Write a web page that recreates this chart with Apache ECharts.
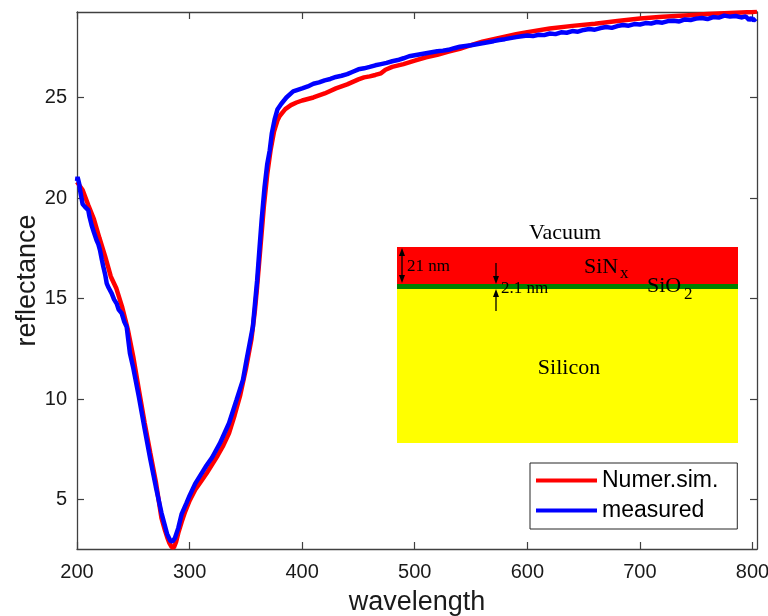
<!DOCTYPE html>
<html>
<head>
<meta charset="utf-8">
<script src="https://cdn.jsdelivr.net/npm/echarts@6/dist/echarts.min.js"></script>
<style>html,body{margin:0;padding:0;background:#fff}#c{width:768px;height:616px}</style>
</head>
<body>
<div id="c"></div>
<script>
// ---- data ----
var simWavelength = [200,205,210,215,220,225,230,235,240,245,250,255,260,265,270,275,278,280,282,284,285,286,288,290,293,296,300,305,310,315,320,325,330,335,340,345,350,355,358,360,363,366,369,372,375,378,380,385,390,395,400,410,420,430,440,450,455,460,465,470,474,480,490,500,510,520,530,540,550,560,570,580,590,600,620,640,660,680,700,720,740,760,780,800,804];
var simReflectance = [20.8,20.4,19.65,18.95,18.0,17.1,16.1,15.5,14.6,13.5,12.1,10.45,8.85,7.35,5.9,4.1,3.5,3.15,2.85,2.65,2.6,2.62,2.9,3.35,3.9,4.4,4.95,5.5,5.9,6.3,6.75,7.2,7.7,8.3,9.2,10.2,11.5,13.0,14.4,15.6,17.6,19.6,21.2,22.4,23.3,23.85,24.08,24.42,24.62,24.75,24.85,25.0,25.2,25.45,25.65,25.9,26.0,26.05,26.12,26.2,26.38,26.52,26.66,26.83,27.0,27.12,27.28,27.42,27.6,27.77,27.9,28.02,28.14,28.25,28.43,28.56,28.67,28.8,28.93,29.01,29.08,29.15,29.2,29.25,29.27];

var measWavelength = [200,200.5,201.2,202,202.7,204,205,206,207.1,208,210,211,213,215,217.4,219,220.4,222,223.4,225,226.4,228,230.8,233,235.2,237,239.7,242,244.1,247,250,255,260,265,270,275,280,283,285,287,290,293,297.3,300,305,309,315,320,327,335,341.7,347.4,350.6,356.2,360,362.2,364,366.6,369,371.2,373,375.5,378,381.5,386,392,400,405,410,415,420,425,430,435,440,445,450,455,460,465,470,475,480,485,490,495,500,505,510,515,520,525,530,535,540,545,550,555,560,565,570,575,580,585,590,595,600,605,610,615,620,625,630,635,640,645,650,655,660,665,670,675,680,685,690,695,700,705,710,715,720,725,730,735,740,745,750,755,760,765,770,775,780,785,790,794,797,799,801,803];
var measReflectance = [20.85,21.05,21.0,20.7,20.4,20.0,19.7,19.65,19.56,19.6,19.4,19.1,18.65,18.3,17.9,17.7,17.41,16.95,16.58,16.2,15.76,15.55,15.26,14.95,14.76,14.45,14.27,13.85,13.6,12.28,11.55,10.1,8.55,7.05,5.65,4.35,3.3,2.95,2.93,3.1,3.6,4.3,4.84,5.2,5.8,6.16,6.7,7.1,7.81,8.8,9.96,10.96,11.95,13.6,15.9,17.57,18.9,20.55,21.7,22.37,23.2,23.9,24.4,24.69,25.0,25.3,25.45,25.55,25.68,25.75,25.85,25.92,26.02,26.08,26.16,26.28,26.4,26.45,26.52,26.6,26.66,26.72,26.8,26.86,26.95,27.05,27.1,27.15,27.2,27.25,27.3,27.33,27.37,27.45,27.52,27.56,27.6,27.65,27.7,27.75,27.8,27.86,27.9,27.95,28.0,28.04,28.08,28.05,28.12,28.1,28.18,28.15,28.24,28.22,28.3,28.27,28.36,28.4,28.37,28.45,28.5,28.46,28.55,28.6,28.57,28.65,28.63,28.7,28.68,28.75,28.72,28.8,28.82,28.78,28.88,28.85,28.92,28.95,28.9,29.0,28.97,29.07,29.02,29.05,28.98,29.03,28.85,28.95,28.82,28.92];

var xTicks = [200,300,400,500,600,700,800];
var yTicks = [5,10,15,20,25];
var seriesNames = ['Numer.sim.','measured'];

function pairs(xs, ys){ var out=[]; for(var i=0;i<xs.length;i++) out.push([xs[i], ys[i]]); return out; }

var chart = echarts.init(document.getElementById('c'), null, {renderer:'canvas'});
var axisCol = '#404040';
var sans = 'Liberation Sans, Arial, Helvetica, sans-serif';
var serif = 'Liberation Serif, Times New Roman, serif';

var xMin = 200, xMax = 804, yMin = 2.55, yMax = 29.25;

function baseX(pos, showLabel){
  return {
    type:'value', position:pos, min:xMin, max:xMax,
    splitLine:{show:false},
    axisLine:{show:true, onZero:false, lineStyle:{color:axisCol, width:1.3}},
    axisTick:{show:true, inside:true, length:7, customValues:xTicks, lineStyle:{color:axisCol, width:1.2}},
    axisLabel:{show:showLabel, customValues:xTicks, color:'#1a1a1a', fontSize:20, fontFamily:sans, margin:13},
  };
}
function baseY(pos, showLabel){
  return {
    type:'value', position:pos, min:yMin, max:yMax,
    splitLine:{show:false},
    axisLine:{show:true, onZero:false, lineStyle:{color:axisCol, width:1.3}},
    axisTick:{show:true, inside:true, length:7, customValues:yTicks, lineStyle:{color:axisCol, width:1.2}},
    axisLabel:{show:showLabel, customValues:yTicks, color:'#1a1a1a', fontSize:20, fontFamily:sans, margin:10},
  };
}
var xa = baseX('bottom', true);
xa.name = 'wavelength'; xa.nameLocation='middle'; xa.nameGap=40; xa.nameMoveOverlap=false;
xa.nameTextStyle = {fontSize:27, fontFamily:sans, color:'#1a1a1a'};
var ya = baseY('left', true);
ya.name = 'reflectance'; ya.nameLocation='middle'; ya.nameGap=36; ya.nameMoveOverlap=false;
ya.nameTextStyle = {fontSize:27, fontFamily:sans, color:'#1a1a1a'};

// inset schematic geometry (pixels)
var L=397, W=341;
var graphics = [
  {type:'rect', shape:{x:L,y:247,width:W,height:37}, style:{fill:'#ff0000'}, z:10},
  {type:'rect', shape:{x:L,y:284,width:W,height:5}, style:{fill:'#008000'}, z:10},
  {type:'rect', shape:{x:L,y:289,width:W,height:154}, style:{fill:'#ffff00'}, z:10},
  {type:'text', x:565, y:233, style:{text:'Vacuum', font:'22px '+serif, fill:'#000', align:'center', verticalAlign:'middle'}, z:11},
  {type:'text', x:569, y:368, style:{text:'Silicon', font:'22px '+serif, fill:'#000', align:'center', verticalAlign:'middle'}, z:11},
  {type:'text', x:584, y:267, style:{text:'SiN', font:'22px '+serif, fill:'#000', align:'left', verticalAlign:'middle'}, z:11},
  {type:'text', x:620, y:274, style:{text:'x', font:'17px '+serif, fill:'#000', align:'left', verticalAlign:'middle'}, z:11},
  {type:'text', x:647, y:286, style:{text:'SiO', font:'22px '+serif, fill:'#000', align:'left', verticalAlign:'middle'}, z:11},
  {type:'text', x:684, y:295, style:{text:'2', font:'17px '+serif, fill:'#000', align:'left', verticalAlign:'middle'}, z:11},
  {type:'text', x:407, y:267, style:{text:'21 nm', font:'17px '+serif, fill:'#000', align:'left', verticalAlign:'middle'}, z:11},
  {type:'text', x:501, y:289, style:{text:'2.1 nm', font:'17px '+serif, fill:'#000', align:'left', verticalAlign:'middle'}, z:11},
  // arrow 1 (double headed)
  {type:'line', shape:{x1:402,y1:251,x2:402,y2:280}, style:{stroke:'#000', lineWidth:1.3}, z:12},
  {type:'polygon', shape:{points:[[402,248],[399,256],[405,256]]}, style:{fill:'#000'}, z:12},
  {type:'polygon', shape:{points:[[402,283],[399,275],[405,275]]}, style:{fill:'#000'}, z:12},
  // arrow 2
  {type:'line', shape:{x1:496,y1:263,x2:496,y2:280}, style:{stroke:'#000', lineWidth:1.3}, z:12},
  {type:'polygon', shape:{points:[[496,284],[493,276],[499,276]]}, style:{fill:'#000'}, z:12},
  {type:'line', shape:{x1:496,y1:293,x2:496,y2:311}, style:{stroke:'#000', lineWidth:1.3}, z:12},
  {type:'polygon', shape:{points:[[496,289],[493,297],[499,297]]}, style:{fill:'#000'}, z:12}
];

chart.setOption({
  animation:false,
  backgroundColor:'#ffffff',
  grid:{left:77, right:11, top:12, bottom:67, containLabel:false, outerBoundsMode:'none'},
  xAxis:[xa, baseX('top', false)],
  yAxis:[ya, baseY('right', false)],
  legend:{
    orient:'vertical', left:530, top:463,
    data:seriesNames,
    icon:'rect', itemWidth:61, itemHeight:4, itemGap:7,
    padding:[6,19,7,6],
    borderColor:'#262626', borderWidth:1, backgroundColor:'#fff',
    textStyle:{fontSize:23, fontFamily:sans, color:'#000', padding:[0,0,0,0]},
    z:20
  },
  series:[
    {name:seriesNames[0], type:'line', data:pairs(simWavelength, simReflectance), showSymbol:false, symbol:'none',
     lineStyle:{color:'#ff0000', width:4.5}, itemStyle:{color:'#ff0000'}, z:2},
    {name:seriesNames[1], type:'line', data:pairs(measWavelength, measReflectance), showSymbol:false, symbol:'none',
     lineStyle:{color:'#0000ff', width:4.5}, itemStyle:{color:'#0000ff'}, z:3}
  ],
  graphic:graphics
});
</script>
</body>
</html>
